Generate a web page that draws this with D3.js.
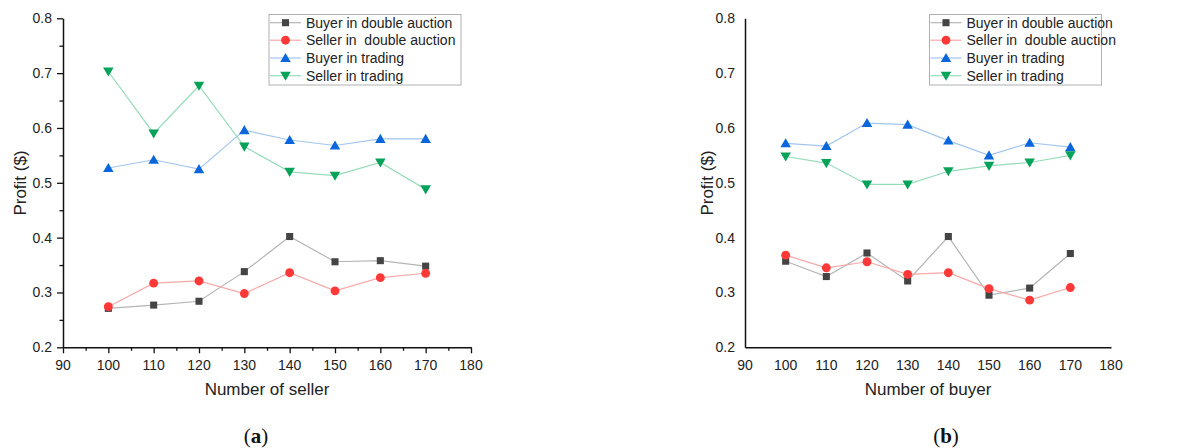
<!DOCTYPE html>
<html>
<head>
<meta charset="utf-8">
<script src="https://cdn.jsdelivr.net/npm/d3@7"></script>
<style>
  body { margin: 0; background: #fff; }
  svg { display: block; font-family: "Liberation Sans", Arial, sans-serif; }
  .tick-label { font-size: 14px; fill: #222; }
  .axis-title { font-size: 17px; fill: #222; }
  .legend-text { font-size: 14px; fill: #222; white-space: pre; }
</style>
</head>
<body>
<div class="contenedor_grafico"></div>
<script>
// x values shared by both panels
const counts = [100, 110, 120, 130, 140, 150, 160, 170];
const xTicks = [90, 100, 110, 120, 130, 140, 150, 160, 170, 180];
const yTicks = [0.2, 0.3, 0.4, 0.5, 0.6, 0.7, 0.8];
const seriesNames = [
  "Buyer in double auction",
  "Seller in  double auction",
  "Buyer in trading",
  "Seller in trading"
];

// panel (a): number of seller
const sellerBuyerDA = [0.271, 0.277, 0.284, 0.338, 0.402, 0.356, 0.358, 0.348];
const sellerSellerDA = [0.274, 0.317, 0.321, 0.298, 0.336, 0.303, 0.327, 0.335];
const sellerBuyerTr = [0.527, 0.542, 0.525, 0.596, 0.578, 0.568, 0.580, 0.580];
const sellerSellerTr = [0.703, 0.590, 0.677, 0.566, 0.520, 0.513, 0.537, 0.488];

// panel (b): number of buyer
const buyerBuyerDA = [0.357, 0.329, 0.372, 0.321, 0.402, 0.295, 0.308, 0.371];
const buyerSellerDA = [0.368, 0.345, 0.356, 0.333, 0.336, 0.307, 0.286, 0.309];
const buyerBuyerTr = [0.572, 0.567, 0.609, 0.606, 0.577, 0.550, 0.573, 0.565];
const buyerSellerTr = [0.548, 0.536, 0.497, 0.497, 0.521, 0.531, 0.537, 0.550];

const styles = [
  { marker: "square", fill: "#444444", line: "#b5b5b5" },
  { marker: "circle", fill: "#ff3838", line: "#f7a8a8" },
  { marker: "triangle", fill: "#0b66dc", line: "#a3c6ee" },
  { marker: "triangleDown", fill: "#07a25a", line: "#97dcba" }
];

const width = 1183;
const height = 448;

const svg = d3
  .select(".contenedor_grafico")
  .append("svg")
  .attr("width", width)
  .attr("height", height);

function symbolFor(name) {
  if (name === "square") return d3.symbol().type(d3.symbolSquare).size(50)();
  if (name === "circle") return d3.symbol().type(d3.symbolCircle).size(62)();
  if (name === "triangle") return d3.symbol().type(d3.symbolTriangle).size(48)();
  // downward triangle: same triangle, flipped later
  return d3.symbol().type(d3.symbolTriangle).size(48)();
}

function markerTransform(name, x, y) {
  if (name === "triangle") return `translate(${x},${y + 1})`;
  if (name === "triangleDown") return `translate(${x},${y - 1}) rotate(180)`;
  return `translate(${x},${y})`;
}

function drawPanel(opts) {
  const xScale = d3.scaleLinear().domain([90, 180]).range([opts.x0, opts.x1]);
  const yScale = d3.scaleLinear().domain([0.2, 0.8]).range([347.3, 18.3]);

  const g = svg.append("g");

  // axes
  const xAxis = d3
    .axisBottom(xScale)
    .tickValues(opts.ticks ? d3.range(90, 181, 5) : [])
    .tickSize(0)
    .tickFormat("");
  const xg = g
    .append("g")
    .attr("transform", `translate(0, ${yScale(0.2)})`)
    .call(xAxis);
  xg.select(".domain").attr("stroke", "#111").attr("stroke-width", 1.5);
  if (opts.ticks) {
    xg.selectAll(".tick line")
      .attr("y2", (d) => (d % 10 === 0 ? 6 : 3.5))
      .attr("stroke", "#111")
      .attr("stroke-width", 1.3);
  }

  const yAxis = d3
    .axisLeft(yScale)
    .tickValues(opts.ticks ? d3.range(0.2, 0.801, 0.05) : [])
    .tickSize(0)
    .tickFormat("");
  const yg = g
    .append("g")
    .attr("transform", `translate(${xScale(90)}, 0)`)
    .call(yAxis);
  yg.select(".domain").attr("stroke", "#111").attr("stroke-width", 1.5);
  if (opts.ticks) {
    yg.selectAll(".tick line")
      .attr("x2", (d, i) => (i % 2 === 0 ? -6 : -3.5))
      .attr("stroke", "#111")
      .attr("stroke-width", 1.3);
  }

  // tick labels
  g.selectAll(".xlab")
    .data(xTicks)
    .enter()
    .append("text")
    .attr("class", "tick-label")
    .attr("x", (d) => xScale(d))
    .attr("y", 370)
    .attr("text-anchor", "middle")
    .text((d) => d);

  g.selectAll(".ylab")
    .data(yTicks)
    .enter()
    .append("text")
    .attr("class", "tick-label")
    .attr("x", xScale(90) - opts.labelGap)
    .attr("y", (d) => yScale(d) + 5)
    .attr("text-anchor", "end")
    .text((d) => d.toFixed(1));

  g.append("text")
    .attr("class", "axis-title")
    .attr("x", opts.titleX)
    .attr("y", 395)
    .attr("text-anchor", "middle")
    .text(opts.xTitle);

  g.append("text")
    .attr("class", "axis-title")
    .attr("transform", `translate(${opts.yTitleX}, 183) rotate(-90)`)
    .attr("text-anchor", "middle")
    .attr("dy", "0.35em")
    .text("Profit ($)");

  // series
  const line = d3
    .line()
    .x((d, i) => xScale(counts[i]))
    .y((d) => yScale(d));

  opts.series.forEach((values, s) => {
    g.append("path")
      .attr("d", line(values))
      .attr("fill", "none")
      .attr("stroke", styles[s].line)
      .attr("stroke-width", 1.2);
  });
  opts.series.forEach((values, s) => {
    g.selectAll(".m" + s)
      .data(values)
      .enter()
      .append("path")
      .attr("d", symbolFor(styles[s].marker))
      .attr("transform", (d, i) =>
        markerTransform(styles[s].marker, xScale(counts[i]), yScale(d))
      )
      .attr("fill", styles[s].fill);
  });

  // legend
  const lg = g.append("g");
  lg.append("rect")
    .attr("x", opts.legX)
    .attr("y", 14.5)
    .attr("width", opts.legW)
    .attr("height", 70.5)
    .attr("fill", "#fff")
    .attr("stroke", "#b0b0b0")
    .attr("stroke-width", 1);
  const rowsY = [22.7, 40.2, 58, 75.7];
  seriesNames.forEach((name, s) => {
    const y = rowsY[s];
    lg.append("line")
      .attr("x1", opts.legX + 1)
      .attr("x2", opts.legX + 32)
      .attr("y1", y)
      .attr("y2", y)
      .attr("stroke", styles[s].line)
      .attr("stroke-width", 1.2);
    lg.append("path")
      .attr("d", symbolFor(styles[s].marker))
      .attr("transform", markerTransform(styles[s].marker, opts.legX + 16.5, y))
      .attr("fill", styles[s].fill);
    lg.append("text")
      .attr("class", "legend-text")
      .attr("xml:space", "preserve")
      .attr("x", opts.legX + 37)
      .attr("y", y + 5)
      .text(name);
  });

  // panel caption
  const cap = svg
    .append("text")
    .attr("x", opts.capX)
    .attr("y", 443)
    .attr("text-anchor", "middle")
    .style("font-family", "'Liberation Serif', 'DejaVu Serif', serif")
    .style("font-size", "21px")
    .attr("fill", "#111");
  cap.append("tspan").text("(");
  cap.append("tspan").style("font-weight", "bold").text(opts.cap);
  cap.append("tspan").text(")");
}

drawPanel({
  x0: 63,
  x1: 471,
  ticks: true,
  labelGap: 11,
  xTitle: "Number of seller",
  titleX: 267,
  yTitleX: 20,
  legX: 269,
  legW: 192,
  capX: 256,
  cap: "a",
  series: [sellerBuyerDA, sellerSellerDA, sellerBuyerTr, sellerSellerTr]
});

drawPanel({
  x0: 745,
  x1: 1111,
  ticks: false,
  labelGap: 10,
  xTitle: "Number of buyer",
  titleX: 928,
  yTitleX: 707,
  legX: 929.5,
  legW: 172,
  capX: 946,
  cap: "b",
  series: [buyerBuyerDA, buyerSellerDA, buyerBuyerTr, buyerSellerTr]
});
</script>
</body>
</html>
